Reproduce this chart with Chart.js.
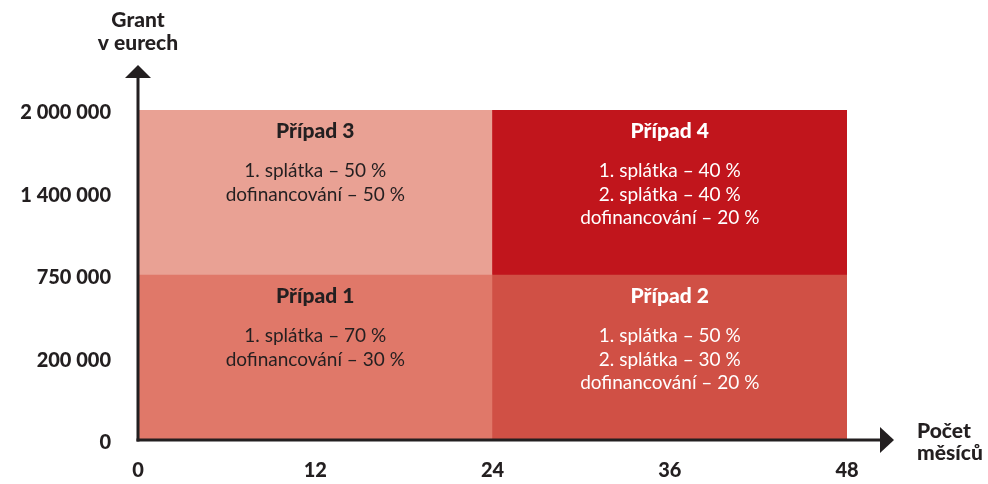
<!DOCTYPE html>
<html>
<head>
<meta charset="utf-8">
<script src="https://cdn.jsdelivr.net/npm/chart.js@4"></script>
<style>
  html, body { margin: 0; padding: 0; background: #fff; }
  #wrap { width: 988px; height: 484px; }
</style>
</head>
<body>
<div id="wrap"><canvas id="myChart"></canvas></div>
<script>
// grant thresholds (drawn evenly spaced, as in the original figure)
const grantLevels = [0, 200000, 750000, 1400000, 2000000];
const grantTickLabels = ['0', '200 000', '750 000', '1 400 000', '2 000 000'];
const monthTicks = [0, 12, 24, 36, 48];
const durationGroups = ['0–24', '24–48'];

// lower band: up to 750 000, upper band: 750 000 – 2 000 000
const lowerBand = [0, 750000];
const upperBand = [750000, 2000000];

const caseNames = [['Případ 1', 'Případ 2'], ['Případ 3', 'Případ 4']];
const caseLines = [
  [['1. splátka – 70 %', 'dofinancování – 30 %'],
   ['1. splátka – 50 %', '2. splátka – 30 %', 'dofinancování – 20 %']],
  [['1. splátka – 50 %', 'dofinancování – 50 %'],
   ['1. splátka – 40 %', '2. splátka – 40 %', 'dofinancování – 20 %']]
];
const bandColors = [['#e07869', '#d05045'], ['#e9a194', '#c1151c']];
const textColors = [['#231f20', '#ffffff'], ['#231f20', '#ffffff']];

const dark = '#231f20';
const FONT = 'Lato, "DejaVu Sans", sans-serif';

const idx = v => grantLevels.indexOf(v);

const boxText = {
  id: 'boxText',
  afterDatasetsDraw(chart) {
    const c = chart.ctx;
    c.save();
    c.textAlign = 'center';
    c.textBaseline = 'middle';
    chart.data.datasets.forEach((ds, di) => {
      chart.getDatasetMeta(di).data.forEach((bar, i) => {
        const top = Math.min(bar.y, bar.base);
        c.fillStyle = textColors[di][i];
        c.font = '900 21px ' + FONT;
        c.fillText(caseNames[di][i], bar.x, top + 21);
        c.font = '19px ' + FONT;
        caseLines[di][i].forEach((t, k) => c.fillText(t, bar.x, top + 61 + k * 23.5));
      });
    });
    c.restore();
  }
};

const axesArrows = {
  id: 'axesArrows',
  afterDraw(chart) {
    const c = chart.ctx;
    const a = chart.chartArea;
    c.save();
    c.strokeStyle = dark;
    c.fillStyle = dark;
    c.lineWidth = 3;
    // y axis
    c.beginPath();
    c.moveTo(a.left, a.bottom + 1.5);
    c.lineTo(a.left, a.top - 32);
    c.stroke();
    c.beginPath();
    c.moveTo(a.left, a.top - 45);
    c.lineTo(a.left - 13, a.top - 32);
    c.lineTo(a.left + 13, a.top - 32);
    c.closePath();
    c.fill();
    // x axis
    c.beginPath();
    c.moveTo(a.left - 1.5, a.bottom);
    c.lineTo(a.right + 34, a.bottom);
    c.stroke();
    c.beginPath();
    c.moveTo(a.right + 47, a.bottom);
    c.lineTo(a.right + 33, a.bottom - 13);
    c.lineTo(a.right + 33, a.bottom + 13);
    c.closePath();
    c.fill();
    // axis titles
    c.font = '900 21px ' + FONT;
    c.textBaseline = 'middle';
    c.textAlign = 'center';
    c.fillText('Grant', a.left, 20);
    c.fillText('v eurech', a.left, 43);
    c.textAlign = 'left';
    c.fillText('Počet', a.right + 70, 431);
    c.fillText('měsíců', a.right + 70, 453);
    c.restore();
  }
};

new Chart(document.getElementById('myChart'), {
  type: 'bar',
  data: {
    labels: durationGroups,
    datasets: [
      {
        label: 'do 750 000',
        data: durationGroups.map(() => [idx(lowerBand[0]), idx(lowerBand[1])]),
        backgroundColor: bandColors[0],
        xAxisID: 'x'
      },
      {
        label: '750 000 – 2 000 000',
        data: durationGroups.map(() => [idx(upperBand[0]), idx(upperBand[1])]),
        backgroundColor: bandColors[1],
        xAxisID: 'x'
      }
    ]
  },
  options: {
    responsive: true,
    maintainAspectRatio: false,
    animation: false,
    grouped: false,
    barPercentage: 1,
    categoryPercentage: 1,
    borderWidth: 0,
    layout: { padding: { top: 110, right: 141, left: 0, bottom: 0 } },
    plugins: {
      legend: { display: false },
      tooltip: { enabled: false }
    },
    scales: {
      x: { display: false },
      months: {
        type: 'linear',
        position: 'bottom',
        offset: false,
        min: monthTicks[0],
        max: monthTicks[monthTicks.length - 1],
        afterBuildTicks: s => { s.ticks = monthTicks.map(v => ({ value: v })); },
        afterFit: s => { s.height = 44; },
        grid: { display: false, drawTicks: false, offset: false },
        border: { display: false },
        ticks: {
          padding: 19,
          color: dark,
          font: { family: FONT, size: 20, weight: '900' },
          maxRotation: 0
        }
      },
      y: {
        min: 0,
        max: grantLevels.length - 1,
        afterBuildTicks: s => { s.ticks = grantLevels.map((v, i) => ({ value: i })); },
        afterFit: s => { s.width = 138; },
        grid: { display: false, drawTicks: false },
        border: { display: false },
        ticks: {
          padding: 27,
          labelOffset: 3,
          color: dark,
          font: { family: FONT, size: 20, weight: '900' },
          callback: v => grantTickLabels[v]
        }
      }
    }
  },
  plugins: [boxText, axesArrows]
});
</script>
</body>
</html>
